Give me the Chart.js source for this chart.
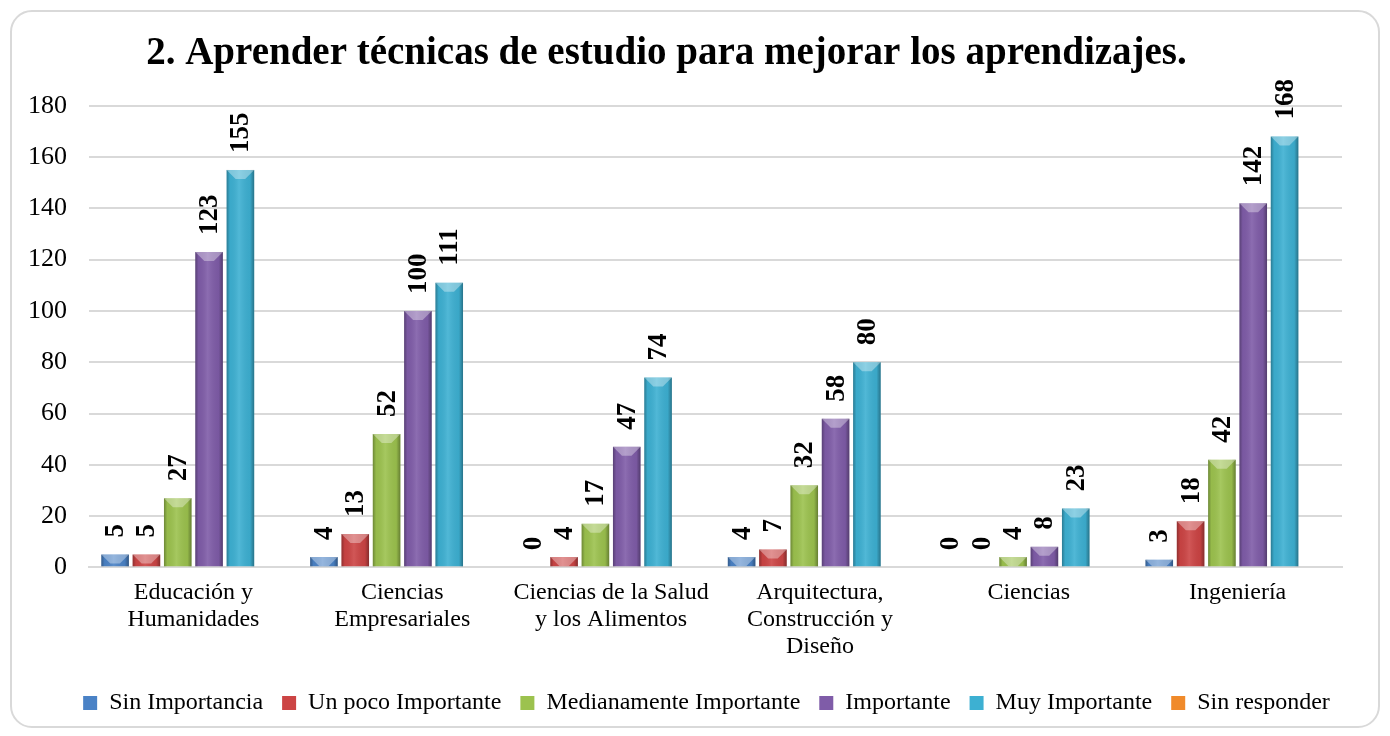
<!DOCTYPE html>
<html>
<head>
<meta charset="utf-8">
<script src="https://cdn.jsdelivr.net/npm/chart.js@4"></script>
<style>
  body { margin: 0; background: #fff; }
  #box {
    position: absolute; left: 10px; top: 10px;
    width: 1370px; height: 718px;
    box-sizing: border-box;
    border: 2px solid #d9d9d9; border-radius: 22px;
  }
</style>
</head>
<body>
<div id="box"><canvas id="myChart"></canvas></div>
<script>
// data
const categories = [
  ["Educación y", "Humanidades"],
  ["Ciencias", "Empresariales"],
  ["Ciencias de la Salud", "y los Alimentos"],
  ["Arquitectura,", "Construcción y", "Diseño"],
  "Ciencias",
  "Ingeniería",
];
const sinImportancia = [5, 4, 0, 4, 0, 3];
const unPocoImportante = [5, 13, 4, 7, 0, 18];
const medianamenteImportante = [27, 52, 17, 32, 4, 42];
const importante = [123, 100, 47, 58, 8, 142];
const muyImportante = [155, 111, 74, 80, 23, 168];
const sinResponder = [0, 0, 0, 0, 0, 0];
const yTicks = [0, 20, 40, 60, 80, 100, 120, 140, 160, 180];

const serif = '"Liberation Serif", "DejaVu Serif", serif';

// bevel look on the bars
const bevel = {
  id: "bevel",
  afterDatasetsDraw(chart) {
    const ctx = chart.ctx;
    chart.data.datasets.forEach((ds, i) => {
      chart.getDatasetMeta(i).data.forEach((bar) => {
        const h = bar.base - bar.y;
        if (h <= 0.5) return;
        const l = bar.x - bar.width / 2;
        const r = bar.x + bar.width / 2;
        const g = ctx.createLinearGradient(l, 0, r, 0);
        g.addColorStop(0, "rgba(0,0,0,0.30)");
        g.addColorStop(0.12, "rgba(0,0,0,0.04)");
        g.addColorStop(0.45, "rgba(255,255,255,0.10)");
        g.addColorStop(0.85, "rgba(0,0,0,0.05)");
        g.addColorStop(1, "rgba(0,0,0,0.35)");
        ctx.save();
        ctx.fillStyle = g;
        ctx.fillRect(l, bar.y, r - l, h);
        const b = Math.min(9, h);
        ctx.fillStyle = "rgba(255,255,255,0.35)";
        ctx.beginPath();
        ctx.moveTo(l, bar.y);
        ctx.lineTo(r, bar.y);
        ctx.lineTo(r - b, bar.y + b);
        ctx.lineTo(l + b, bar.y + b);
        ctx.closePath();
        ctx.fill();
        ctx.restore();
      });
    });
  },
};

// rotated value labels
const valueLabels = {
  id: "valueLabels",
  afterDatasetsDraw(chart) {
    const ctx = chart.ctx;
    chart.data.datasets.forEach((ds, i) => {
      if (ds.noLabels) return;
      chart.getDatasetMeta(i).data.forEach((bar, j) => {
        ctx.save();
        ctx.translate(bar.x + 1, bar.y - 17);
        ctx.rotate(-Math.PI / 2);
        ctx.font = "bold 27px " + serif;
        ctx.fillStyle = "#000";
        ctx.textAlign = "left";
        ctx.textBaseline = "middle";
        ctx.fillText(String(ds.data[j]), 0, 0);
        ctx.restore();
      });
    });
  },
};

// title sits a bit left of centre, legend a bit right
const nudge = {
  id: "nudge",
  afterLayout(chart) {
    chart.titleBlock.left -= 18;
    chart.titleBlock.right -= 18;
    chart.legend.left += 22;
    chart.legend.right += 22;
  },
};

const mk = (label, values, color, noLabels) => ({
  label,
  data: values,
  backgroundColor: color,
  borderWidth: 0,
  noLabels,
});

const data = {
  labels: categories,
  datasets: [
    mk("Sin Importancia", sinImportancia, "#4A82C6"),
    mk("Un poco Importante", unPocoImportante, "#CC4444"),
    mk("Medianamente Importante", medianamenteImportante, "#9CC24E"),
    mk("Importante", importante, "#7F5CA8"),
    mk("Muy Importante", muyImportante, "#3DB0D2"),
    mk("Sin responder", sinResponder, "#F08A2A", true),
  ],
};

const config = {
  type: "bar",
  data,
  plugins: [bevel, valueLabels, nudge],
  options: {
    responsive: true,
    maintainAspectRatio: false,
    animation: false,
    layout: { padding: { left: 15, right: 36, top: 6, bottom: 1 } },
    datasets: { bar: { categoryPercentage: 0.9, barPercentage: 0.88 } },
    plugins: {
      title: {
        display: true,
        text: "2. Aprender técnicas de estudio para mejorar los aprendizajes.",
        color: "#000",
        font: { family: serif, size: 39, weight: "bold" },
        padding: { top: 13, bottom: 28 },
      },
      legend: {
        position: "bottom",
        labels: {
          color: "#000",
          font: { family: serif, size: 24 },
          boxWidth: 14,
          boxHeight: 14,
          padding: 19,
        },
      },
      tooltip: { enabled: false },
    },
    scales: {
      x: {
        grid: { display: false, drawTicks: false },
        border: { color: "#d9d9d9", width: 2 },
        afterFit: (axis) => {
          axis.paddingLeft = 0;
          axis.paddingRight = 0;
        },
        ticks: {
          color: "#000",
          font: { family: serif, size: 24, lineHeight: 1.12 },
          padding: 12,
          maxRotation: 0,
          autoSkip: false,
        },
      },
      y: {
        min: 0,
        max: 180,
        afterBuildTicks: (axis) => {
          axis.ticks = yTicks.map((v) => ({ value: v }));
        },
        afterFit: (axis) => {
          axis.width = 62;
        },
        grid: { color: "#d9d9d9", lineWidth: 2, drawTicks: false },
        border: { display: false },
        ticks: {
          color: "#000",
          font: { family: serif, size: 26 },
          padding: 22,
        },
      },
    },
  },
};

const myChart = new Chart(document.getElementById("myChart"), config);
</script>
</body>
</html>
